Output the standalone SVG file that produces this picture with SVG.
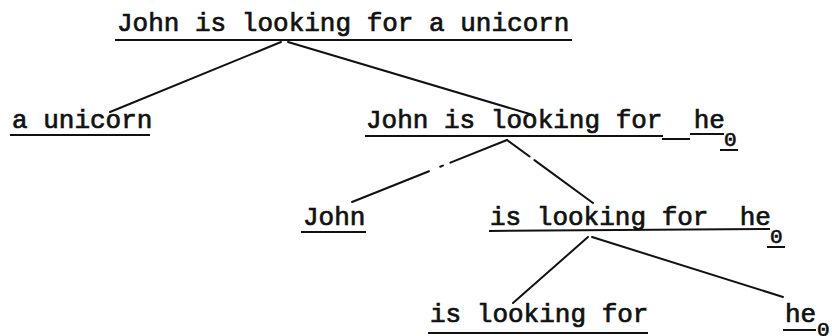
<svg xmlns="http://www.w3.org/2000/svg" width="832" height="336" viewBox="0 0 832 336">
<style>
.t{font-family:"Liberation Mono","Courier New",monospace;font-size:26px;fill:#111;stroke:#111;stroke-width:0.7}
.s{font-family:"Liberation Mono","Courier New",monospace;font-size:21px;fill:#111;stroke:#111;stroke-width:0.7}
.u{stroke:#111;stroke-width:2;fill:none}
.c{stroke:#111;stroke-width:2;fill:none;stroke-linecap:round}
</style>
<rect width="832" height="336" fill="#fff"/>
<g id="connectors">
<line class="c" x1="281" y1="42" x2="110" y2="112"/>
<line class="c" x1="288" y1="42" x2="533" y2="115"/>
<line class="c" x1="507" y1="140" x2="352" y2="202" stroke-dasharray="61 8 3 12 200"/>
<line class="c" x1="507" y1="140" x2="593" y2="203" stroke-dasharray="28 6 200"/>
<line class="c" x1="588" y1="237" x2="513" y2="303"/>
<line class="c" x1="592" y1="237" x2="783" y2="297"/>
</g>
<g id="n1">
<text class="t" x="117" y="31">John is looking for a unicorn</text>
<line class="u" x1="115" y1="40" x2="572" y2="40"/>
</g>
<g id="n2">
<text class="t" x="12" y="128">a unicorn</text>
<line class="u" x1="10" y1="135" x2="150" y2="135"/>
</g>
<g id="n3">
<text class="t" x="366" y="128" xml:space="preserve">John is looking for  he</text>
<text class="s" x="724" y="146">0</text>
<line class="u" x1="365" y1="136" x2="663" y2="136"/>
<line class="u" x1="662" y1="139" x2="690" y2="139"/>
<line class="u" x1="690" y1="134" x2="724" y2="134"/>
<line class="u" x1="720" y1="150" x2="738" y2="150"/>
</g>
<g id="n4">
<text class="t" x="303" y="225">John</text>
<line class="u" x1="301" y1="232" x2="366" y2="232"/>
</g>
<g id="n5">
<text class="t" x="490" y="225" xml:space="preserve">is looking for  he</text>
<text class="s" x="770" y="243">0</text>
<line class="u" x1="489" y1="231" x2="770" y2="229"/>
<line class="u" x1="767" y1="247" x2="785" y2="247"/>
</g>
<g id="n6">
<text class="t" x="430" y="322">is looking for</text>
<line class="u" x1="428" y1="333" x2="648" y2="333"/>
</g>
<g id="n7">
<text class="t" x="785" y="322">he</text>
<text class="s" x="817" y="336">0</text>
<line class="u" x1="783" y1="330" x2="816" y2="330"/>
</g>
</svg>
